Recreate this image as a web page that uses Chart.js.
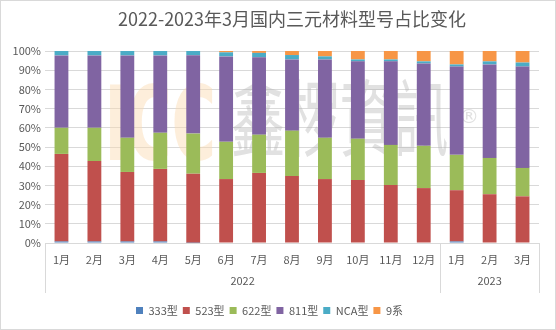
<!DOCTYPE html>
<html><head><meta charset="utf-8">
<script src="https://cdn.jsdelivr.net/npm/chart.js@4/dist/chart.umd.min.js"></script>
<style>html,body{margin:0;padding:0;background:#fff}#wrap{width:556px;height:330px}</style>
</head><body><div id="wrap"><canvas id="c" width="556" height="330"></canvas></div>
<script>
const titleText = '2022-2023年3月国内三元材料型号占比变化';
const months = ['1月','2月','3月','4月','5月','6月','7月','8月','9月','10月','11月','12月','1月','2月','3月'];
const yearLabels = ['2022','2023'];
const yearSpans = [12, 3];
const seriesNames = ['333型','523型','622型','811型','NCA型','9系'];
const s333 = [0.8,0.8,0.8,0.8,0.1,0,0,0,0,0,0,0,0.8,0,0];
const s523 = [45.6,41.9,36.2,37.8,36.0,33.3,36.5,34.9,33.3,32.8,30.2,28.6,26.7,25.4,24.3];
const s622 = [13.6,17.3,17.8,18.8,20.9,19.4,19.9,23.6,21.5,21.5,20.9,22.0,18.4,18.9,14.8];
const s811 = [37.7,37.7,42.9,40.3,40.8,44.5,40.3,37.1,40.8,40.3,43.5,42.9,46.0,48.7,52.8];
const sNCA = [2.3,2.3,2.3,2.3,2.3,2.1,2.3,2.3,1.6,1.0,1.0,1.1,1.1,1.6,2.1];
const s9   = [0,0,0,0,0,0.7,1.0,2.1,2.8,4.4,4.4,5.4,7.0,5.4,6.0];
const colors = ['#4F81BD','#C0504D','#9BBB59','#8064A2','#4BACC6','#F79646'];
const allSeries = [s333,s523,s622,s811,sNCA,s9];
const watermarkLogo = 'ICC';
const watermarkName = '鑫椤資訊';

const FONT = "'Noto Sans CJK SC', 'Noto Sans', sans-serif";
const TXT = '#595959';

function fitText(ctx, text, x, yTop, w, h, font) {
  ctx.save();
  ctx.font = font;
  const m = ctx.measureText(text);
  const asc = m.actualBoundingBoxAscent, desc = m.actualBoundingBoxDescent;
  const left = m.actualBoundingBoxLeft, tw = m.actualBoundingBoxLeft + m.actualBoundingBoxRight;
  ctx.translate(x, yTop);
  ctx.scale(w / tw, h / (asc + desc));
  ctx.textBaseline = 'alphabetic';
  ctx.fillText(text, left, asc);
  ctx.restore();
}

const decor = {
  id: 'decor',
  beforeDraw(chart) {
    const ctx = chart.ctx;
    ctx.save();
    ctx.fillStyle = '#fff';
    ctx.fillRect(0, 0, chart.width, chart.height);
    ctx.strokeStyle = '#d9d9d9';
    ctx.lineWidth = 1;
    ctx.strokeRect(0.5, 0.5, chart.width - 1, chart.height - 1);
    ctx.restore();
  },
  beforeDatasetsDraw(chart) {
    const ctx = chart.ctx;
    ctx.save();
    ctx.fillStyle = 'rgba(250,218,175,0.45)';
    fitText(ctx, watermarkLogo, 110, 110, 102, 78, "bold 100px 'DejaVu Sans', sans-serif");
    ctx.fillStyle = 'rgba(180,180,180,0.4)';
    fitText(ctx, watermarkName, 233, 110, 214, 80, "80px 'Noto Sans CJK TC', sans-serif");
    ctx.font = "20px 'DejaVu Sans', sans-serif";
    ctx.textAlign = 'center';
    ctx.textBaseline = 'middle';
    ctx.fillText('®', 469, 118);
    ctx.restore();
  },
  afterDraw(chart) {
    const ctx = chart.ctx;
    const x = chart.scales.x;
    const area = chart.chartArea;
    ctx.save();
    ctx.fillStyle = TXT;
    ctx.font = "18px " + FONT;
    ctx.textAlign = 'center';
    ctx.textBaseline = 'middle';
    ctx.fillText(titleText, (area.left + area.right) / 2, 19);
    const step = (x.getPixelForValue(1) - x.getPixelForValue(0));
    let idx = 0;
    const bounds = [area.left];
    ctx.strokeStyle = '#d9d9d9';
    ctx.lineWidth = 1;
    ctx.font = "11px " + FONT;
    yearLabels.forEach((y, i) => {
      const start = x.getPixelForValue(idx) - step / 2;
      const end = x.getPixelForValue(idx + yearSpans[i] - 1) + step / 2;
      ctx.fillText(y, (start + end) / 2, area.bottom + 38);
      idx += yearSpans[i];
      bounds.push(end);
    });
    bounds.forEach(b => {
      const px = Math.round(b) + 0.5;
      ctx.beginPath();
      ctx.moveTo(px, area.bottom);
      ctx.lineTo(px, area.bottom + 50);
      ctx.stroke();
    });
    ctx.restore();
  }
};

new Chart(document.getElementById('c'), {
  type: 'bar',
  data: {
    labels: months,
    datasets: allSeries.map((d, i) => ({
      label: seriesNames[i],
      data: d,
      backgroundColor: colors[i],
      borderWidth: 0,
      barPercentage: 0.42,
      categoryPercentage: 1.0
    }))
  },
  options: {
    responsive: false,
    animation: false,
    layout: { padding: { top: 51, right: 17, left: 0, bottom: 4 } },
    plugins: {
      title: { display: false },
      tooltip: { enabled: false },
      legend: {
        position: 'bottom',
        labels: {
          boxWidth: 7, boxHeight: 7, padding: 5,
          color: TXT,
          font: { family: FONT, size: 11 }
        }
      }
    },
    scales: {
      x: {
        stacked: true,
        grid: { display: false, drawTicks: false },
        border: { display: true, color: '#d9d9d9' },
        ticks: { color: TXT, font: { family: FONT, size: 11 }, padding: 10, maxRotation: 0, autoSkip: false },
        afterFit(s) { s.height = 57; }
      },
      y: {
        stacked: true,
        min: 0, max: 100,
        ticks: { stepSize: 10, color: TXT, font: { family: FONT, size: 11 }, padding: 4,
                 callback: v => v + '%' },
        grid: { color: '#d9d9d9', drawTicks: false },
        border: { display: false },
        afterFit(s) { s.width = 45; }
      }
    }
  },
  plugins: [decor]
});
</script>
</body></html>
